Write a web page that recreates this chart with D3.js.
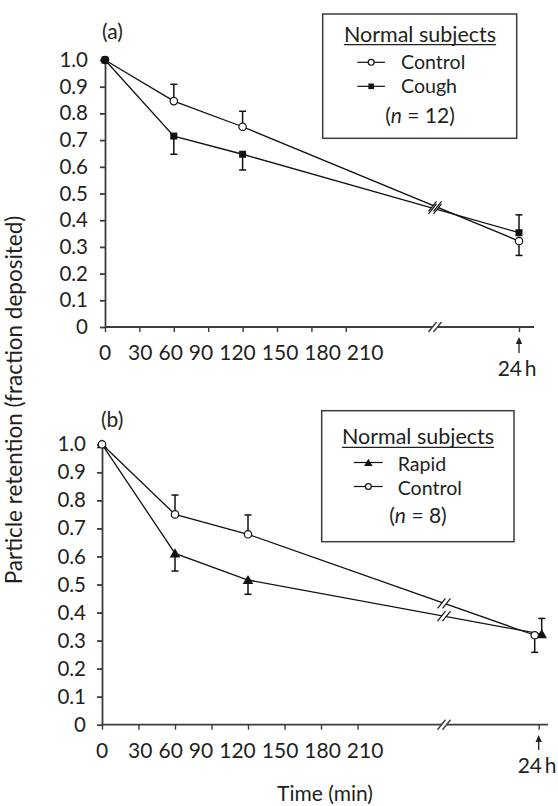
<!DOCTYPE html>
<html><head><meta charset="utf-8">
<script src="https://cdn.jsdelivr.net/npm/d3@7"></script>
<style>
body{margin:0;background:#fff;}
svg{display:block;font-family:"Lato",sans-serif;}
</style></head><body>
<svg id="chart" width="558" height="806"></svg>
<script>
// ---------- data ----------
const times = [0, 60, 120, 1440];
const minuteTicks = [0, 30, 60, 90, 120, 150, 180, 210];
const hourTick = 1440;
const hourLabel = "24\u2009h";
const yTicks = [0, 0.1, 0.2, 0.3, 0.4, 0.5, 0.6, 0.7, 0.8, 0.9, 1.0];

// panel (a): normal subjects, n = 12
const aControl    = [1.0, 0.846, 0.750, 0.322];
const aControlErr = [0, 0.063, 0.058, -0.054];   // sign gives bar direction
const aCough      = [1.0, 0.715, 0.647, 0.353];
const aCoughErr   = [0, -0.068, -0.059, 0.067];

// panel (b): normal subjects, n = 8
const bRapid      = [1.0, 0.611, 0.516, 0.323];
const bRapidErr   = [0, -0.063, -0.051, 0.056];
const bControl    = [1.0, 0.750, 0.679, 0.319];
const bControlErr = [0, 0.069, 0.069, -0.061];

const legendTitle = "Normal subjects";
const yTitle = "Particle retention (fraction deposited)";
const xTitle = "Time (min)";

// ---------- layout ----------
const ink = "#231f20";
const svg = d3.select("#chart");

const panels = [
  { label: "(a)", labelXY: [102, 39], n: "12",
    x0: 105, px30: 34.4, hourX: 519, breakX: 435, xEnd: 534, yTop: 60, yBottom: 327,
    tickPad: 12, tickBase: 360, firstGap: 17, arrowTop: 337, arrowBottom: 353, hourTextY: 375.7, hourTextX: 517,
    legend: { x: 322.7, y: 14, w: 194, h: 124.3, cx: 420, titleY: 41.7, rowsY: [69.3, 93.3], symDy: -7,
              symX0: 357.3, symX1: 385, textX: 401, nY: 121.7 },
    series: [
      { name: "Control", values: aControl, err: aControlErr, shape: "circle", dx: 0 },
      { name: "Cough", values: aCough, err: aCoughErr, shape: "square", dx: 0 } ] },
  { label: "(b)", labelXY: [101, 427], n: "8",
    x0: 102, px30: 36.5, hourX: 538.7, breakX: 444, xEnd: 548, yTop: 444.3, yBottom: 724.7,
    tickPad: 11, tickBase: 758.3, firstGap: 20, arrowTop: 735, arrowBottom: 750, hourTextY: 773, hourTextX: 537,
    legend: { x: 321.7, y: 410.7, w: 192.3, h: 131, cx: 418, titleY: 444.3, rowsY: [471, 495], symDy: -8.5,
              symX0: 354, symX1: 382.7, textX: 397.7, nY: 521.7 },
    series: [
      { name: "Rapid", values: bRapid, err: bRapidErr, shape: "triangle", dx: 3 },
      { name: "Control", values: bControl, err: bControlErr, shape: "circle", dx: -4 } ] }
];

function drawMarker(g, shape, cx, cy, scale) {
  scale = scale || 1;
  if (shape === "circle") {
    g.append("circle").attr("cx", cx).attr("cy", cy).attr("r", 3.7 * scale)
      .attr("fill", "#fff").attr("stroke", "#111").attr("stroke-width", 1.2);
  } else if (shape === "square") {
    const s = 7 * scale;
    g.append("rect").attr("x", cx - s / 2).attr("y", cy - s / 2).attr("width", s).attr("height", s)
      .attr("fill", "#111");
  } else {
    g.append("path").attr("d", d3.symbol(d3.symbolTriangle, 48 * scale * scale)())
      .attr("transform", `translate(${cx},${cy + 1})`).attr("fill", "#111");
  }
}

function breakGap(g, cx, cy) {
  g.append("polygon")
    .attr("points", [[cx - 6.5, cy + 5], [cx + 1.5, cy - 5], [cx + 6.5, cy - 5], [cx - 1.5, cy + 5]].map(p => p.join(",")).join(" "))
    .attr("fill", "#fff");
}
function breakSlashes(g, cx, cy, color, sw) {
  [-2.5, 2.5].forEach(o => {
    g.append("line").attr("x1", cx + o - 4).attr("y1", cy + 5).attr("x2", cx + o + 4).attr("y2", cy - 5)
      .attr("stroke", color).attr("stroke-width", sw);
  });
}

panels.forEach(p => {
  const g = svg.append("g");
  const x = d3.scaleLinear().domain([0, 210, hourTick]).range([p.x0, p.x0 + 7 * p.px30, p.hourX]);
  const y = d3.scaleLinear().domain([0, 1]).range([p.yBottom, p.yTop]);

  // y axis
  const ya = g.append("g").attr("transform", `translate(${p.x0},0)`)
    .call(d3.axisLeft(y).tickValues(yTicks).tickSize(5).tickSizeOuter(0).tickPadding(p.tickPad)
      .tickFormat(d => d === 0 ? "0" : d3.format(".1f")(d)));
  ya.selectAll("path,line").attr("stroke", "#3c3c3c").attr("stroke-width", 1.8);
  ya.selectAll("text").attr("font-family", "Lato").attr("font-size", 20.5).attr("fill", ink);

  // x axis
  const xa = g.append("g").attr("transform", `translate(0,${p.yBottom})`)
    .call(d3.axisBottom(x).tickValues(minuteTicks.concat([hourTick])).tickSize(5).tickSizeOuter(0).tickFormat(""));
  xa.select(".domain").remove();
  xa.selectAll("line").attr("stroke", "#3c3c3c").attr("stroke-width", 1.4);
  g.append("line").attr("x1", p.x0).attr("x2", p.xEnd).attr("y1", p.yBottom).attr("y2", p.yBottom)
    .attr("stroke", "#3c3c3c").attr("stroke-width", 1.8);
  breakGap(g, p.breakX, p.yBottom);
  breakSlashes(g, p.breakX, p.yBottom, "#3c3c3c", 1.4);

  // minute labels laid out as one packed row
  let cursor = 0;
  minuteTicks.forEach((t, i) => {
    const tx = g.append("text").text(t).attr("y", p.tickBase)
      .attr("font-size", 21).attr("fill", ink);
    const w = tx.node().getComputedTextLength();
    const xs = i === 0 ? x(t) - w / 2 : cursor + (i === 1 ? p.firstGap : 6);
    tx.attr("x", xs);
    cursor = xs + w;
  });
  // 24 h arrow + label
  const hx = x(hourTick);
  g.append("line").attr("x1", hx).attr("x2", hx).attr("y1", p.arrowBottom).attr("y2", p.arrowTop + 5)
    .attr("stroke", ink).attr("stroke-width", 1.3);
  g.append("path").attr("d", `M${hx},${p.arrowTop}L${hx - 3.2},${p.arrowTop + 7}L${hx + 3.2},${p.arrowTop + 7}Z`)
    .attr("fill", ink);
  g.append("text").text(hourLabel).attr("x", p.hourTextX).attr("y", p.hourTextY)
    .attr("text-anchor", "middle").attr("font-size", 21).attr("fill", ink);

  // panel label
  g.append("text").text(p.label).attr("x", p.labelXY[0]).attr("y", p.labelXY[1])
    .attr("font-size", 21).attr("fill", ink);

  // series
  const pts = p.series.map(s => s.values.map((v, i) => ({
    x: x(times[i]) + (times[i] === hourTick ? s.dx : 0), y: y(v), v, e: s.err[i] })));
  pts.forEach(ps => {
    g.append("path").attr("d", d3.line().x(d => d.x).y(d => d.y)(ps))
      .attr("fill", "none").attr("stroke", "#111").attr("stroke-width", 1.3);
  });
  // line breaks
  const brk = pts.map(ps => {
    const a = ps[2], b = ps[3];
    return a.y + (p.breakX - a.x) / (b.x - a.x) * (b.y - a.y);
  });
  brk.forEach(by => breakGap(g, p.breakX, by));
  brk.forEach(by => breakSlashes(g, p.breakX, by, "#111", 1.2));

  // error bars
  pts.forEach(ps => ps.forEach(d => {
    if (!d.e) return;
    const ye = y(d.v + d.e);
    g.append("line").attr("x1", d.x).attr("x2", d.x).attr("y1", d.y).attr("y2", ye)
      .attr("stroke", "#111").attr("stroke-width", 1.5);
    g.append("line").attr("x1", d.x - 3.5).attr("x2", d.x + 3.5).attr("y1", ye).attr("y2", ye)
      .attr("stroke", "#111").attr("stroke-width", 1.5);
  }));
  // markers
  p.series.forEach((s, si) => pts[si].forEach(d => drawMarker(g, s.shape, d.x, d.y)));

  // legend
  const L = p.legend;
  const lg = g.append("g");
  lg.append("rect").attr("x", L.x).attr("y", L.y).attr("width", L.w).attr("height", L.h)
    .attr("fill", "#fff").attr("stroke", "#3c3c3c").attr("stroke-width", 1.5);
  const tt = lg.append("text").text(legendTitle).attr("x", L.cx).attr("y", L.titleY)
    .attr("text-anchor", "middle").attr("font-size", 21.5).attr("fill", ink);
  const tw = tt.node().getComputedTextLength();
  lg.append("line").attr("x1", L.cx - tw / 2).attr("x2", L.cx + tw / 2)
    .attr("y1", L.titleY + 3).attr("y2", L.titleY + 3).attr("stroke", ink).attr("stroke-width", 1.2);
  const rows = lg.append("text").attr("font-size", 19.6).attr("fill", ink);
  p.series.forEach((s, i) => {
    const ry = L.rowsY[i], sy = ry + L.symDy;
    lg.append("line").attr("x1", L.symX0).attr("x2", L.symX1).attr("y1", sy).attr("y2", sy)
      .attr("stroke", "#111").attr("stroke-width", 1.2);
    drawMarker(lg, s.shape, (L.symX0 + L.symX1) / 2, sy, 0.8);
    rows.append("tspan").text(s.name).attr("x", L.textX).attr("y", ry);
  });
  const nt = lg.append("text").attr("x", L.cx).attr("y", L.nY + 1).attr("text-anchor", "middle")
    .attr("font-size", 21).attr("fill", ink);
  nt.append("tspan").text("(");
  nt.append("tspan").text("n").attr("font-style", "italic");
  nt.append("tspan").text(" = " + p.n + ")");
});

// axis titles
svg.append("text").text(yTitle).attr("transform", "translate(22,400) rotate(-90)")
  .attr("text-anchor", "middle").attr("font-size", 22.5).attr("fill", ink);
svg.append("text").text(xTitle).attr("x", 325).attr("y", 800.5)
  .attr("text-anchor", "middle").attr("font-size", 21).attr("fill", ink);
</script>
</body></html>
